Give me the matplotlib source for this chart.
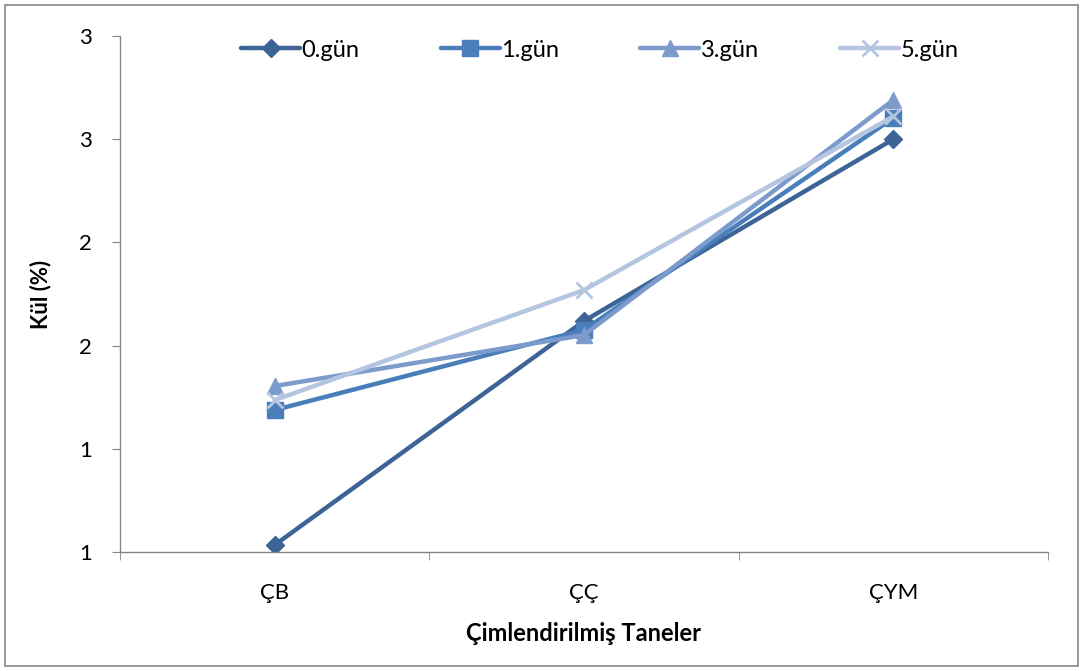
import matplotlib
matplotlib.use("Agg")
import matplotlib.pyplot as plt
from matplotlib.patches import Rectangle
from matplotlib.ticker import FuncFormatter, FixedLocator
import math

categories = ["ÇB", "ÇÇ", "ÇYM"]
series_names = ["0.gün", "1.gün", "3.gün", "5.gün"]
gun0 = [0.534, 1.619, 2.50]
gun1 = [1.188, 1.576, 2.603]
gun3 = [1.304, 1.551, 2.690]
gun5 = [1.236, 1.769, 2.610]
y_ticks = [0.5, 1.0, 1.5, 2.0, 2.5, 3.0]

colors = ["#3C6496", "#4A7EBB", "#7C9ACC", "#B4C5E0"]
markers = ["D", "s", "^", "x"]
msizes = [9, 11, 11, 12]

plt.rcParams['font.family'] = ['Lato', 'DejaVu Sans']

fig = plt.figure(figsize=(10.83, 6.71), dpi=100)
W, H = 1083, 671
ax = fig.add_axes([120 / W, 1 - 552 / H, (1048 - 120) / W, (552 - 36) / H])

xs = list(range(len(categories)))
for data, name, c, m, ms in zip([gun0, gun1, gun3, gun5], series_names, colors, markers, msizes):
    kw = dict(markeredgecolor=c, markerfacecolor=c)
    if m == "x":
        kw = dict(markeredgecolor=c, markeredgewidth=2)
    ax.plot(xs, data, color=c, lw=3.2, marker=m, markersize=ms, label=name,
            solid_capstyle='round', **kw)

ax.set_xlim(-0.5, 2.5)
ax.set_ylim(0.5, 3.0)
ax.yaxis.set_major_locator(FixedLocator(y_ticks))
ax.yaxis.set_major_formatter(FuncFormatter(lambda v, p: str(int(math.floor(v + 0.5)))))
ax.set_xticks(xs)
ax.set_xticklabels(categories)
ax.xaxis.set_minor_locator(FixedLocator([-0.5, 0.5, 1.5, 2.5]))
ax.tick_params(axis='x', which='major', length=0, pad=22, labelsize=16)
ax.tick_params(axis='x', which='minor', length=6, color='#868686', direction='out')
ax.tick_params(axis='y', length=6, color='#868686', direction='out', pad=14, labelsize=16)

for s in ['top', 'right']:
    ax.spines[s].set_visible(False)
for s in ['left', 'bottom']:
    ax.spines[s].set_color('#868686')
    ax.spines[s].set_linewidth(1.0)

ax.set_ylabel("Kül (%)", fontsize=16, fontweight='bold', labelpad=20)
ax.set_xlabel("Çimlendirilmiş Taneler", fontsize=17, fontweight='bold', labelpad=14)

leg = ax.legend(loc='upper center', bbox_to_anchor=(0.517, 1.025), ncol=4, frameon=False,
                fontsize=17, handlelength=2.5, columnspacing=3.45, handletextpad=0.05,
                borderpad=0.2)

fig.patches.append(Rectangle((5 / W, 5 / H), 1 - 10 / W, 1 - 10 / H, transform=fig.transFigure,
                             fill=False, edgecolor='#868686', lw=1.2))

fig.savefig("out.png", dpi=100)
